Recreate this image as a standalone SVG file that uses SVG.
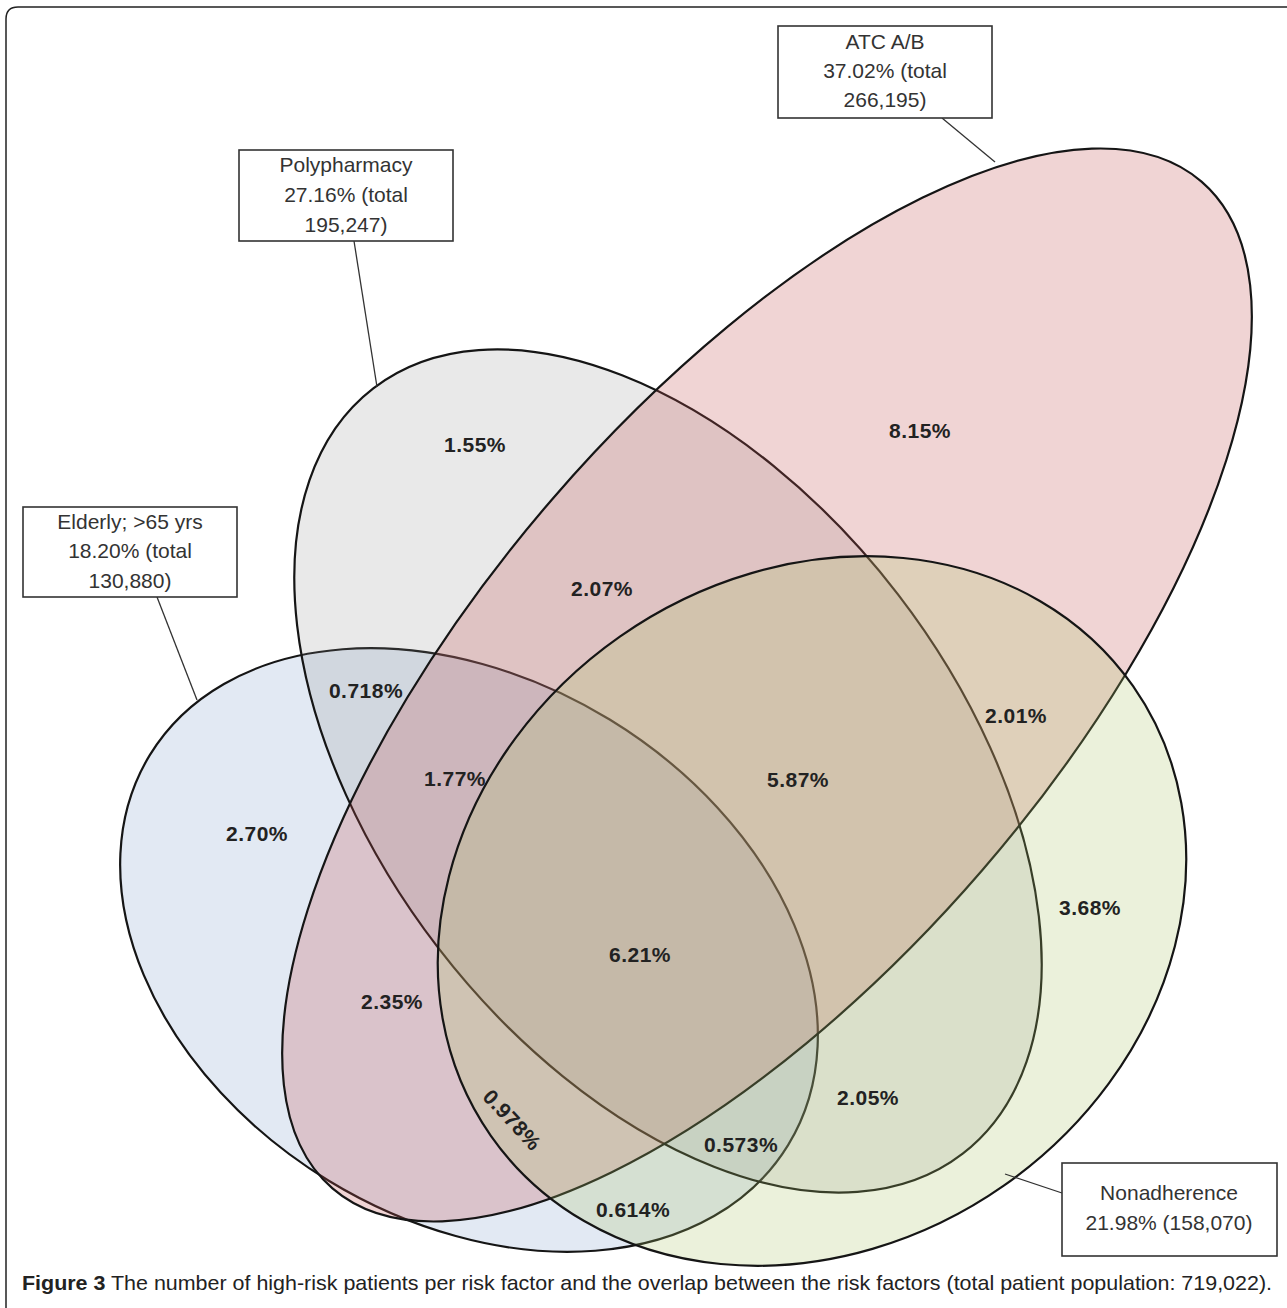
<svg xmlns="http://www.w3.org/2000/svg" width="1287" height="1308" viewBox="0 0 1287 1308">
<style>
.set{stroke:#151515;stroke-width:2.2}
.box{fill:#ffffff;stroke:#333;stroke-width:1.6}
.boxt{font-family:"Liberation Sans",Arial,sans-serif;font-size:21px;fill:#333;text-anchor:middle}
.pct{font-family:"Liberation Sans",Arial,sans-serif;font-size:21px;font-weight:bold;fill:#222;text-anchor:middle;letter-spacing:0.5px}
.lead{stroke:#333;stroke-width:1.3;fill:none}
.cap{font-family:"Liberation Sans",Arial,sans-serif;font-size:21px;fill:#222}
</style>
<rect width="1287" height="1308" fill="#ffffff"/>
<path d="M6,1308 V19 Q6,7 18,7 H1287" fill="none" stroke="#222" stroke-width="1.5"/>
<g id="set-elderly">
<ellipse class="set" cx="469" cy="950" rx="374" ry="270" transform="rotate(31.4 469 950)" fill="rgb(110,145,195)" fill-opacity="0.2"/>
</g>
<g id="set-polypharmacy">
<ellipse class="set" cx="668" cy="771" rx="483" ry="290" transform="rotate(52.4 668 771)" fill="rgb(140,140,140)" fill-opacity="0.19"/>
</g>
<g id="set-atc">
<ellipse class="set" cx="767" cy="685" rx="665" ry="284" transform="rotate(-49.2 767 685)" fill="rgb(195,83,83)" fill-opacity="0.25"/>
</g>
<g id="set-nonadherence">
<ellipse class="set" cx="812" cy="911" rx="392" ry="335" transform="rotate(-35 812 911)" fill="rgb(170,195,105)" fill-opacity="0.24"/>
</g>
<g id="connectors">
<line class="lead" x1="157" y1="597" x2="197" y2="700"/>
<line class="lead" x1="354" y1="241" x2="377" y2="387"/>
<line class="lead" x1="942" y1="118" x2="995" y2="162"/>
<line class="lead" x1="1005" y1="1174" x2="1062" y2="1193"/>
</g>
<g id="label-atc">
<rect class="box" x="778" y="26" width="214" height="92"/>
<text class="boxt" x="885" y="49">ATC A/B</text>
<text class="boxt" x="885" y="78">37.02% (total</text>
<text class="boxt" x="885" y="107">266,195)</text>
</g>
<g id="label-polypharmacy">
<rect class="box" x="239" y="150" width="214" height="91"/>
<text class="boxt" x="346" y="172">Polypharmacy</text>
<text class="boxt" x="346" y="202">27.16% (total</text>
<text class="boxt" x="346" y="232">195,247)</text>
</g>
<g id="label-elderly">
<rect class="box" x="23" y="507" width="214" height="90"/>
<text class="boxt" x="130" y="529">Elderly; &gt;65 yrs</text>
<text class="boxt" x="130" y="558">18.20% (total</text>
<text class="boxt" x="130" y="588">130,880)</text>
</g>
<g id="label-nonadherence">
<rect class="box" x="1062" y="1163" width="215" height="93"/>
<text class="boxt" x="1169" y="1200">Nonadherence</text>
<text class="boxt" x="1169" y="1230">21.98% (158,070)</text>
</g>
<g id="region-values">
<text class="pct" x="475" y="452">1.55%</text>
<text class="pct" x="920" y="438">8.15%</text>
<text class="pct" x="602" y="596">2.07%</text>
<text class="pct" x="366" y="698">0.718%</text>
<text class="pct" x="1016" y="723">2.01%</text>
<text class="pct" x="455" y="786">1.77%</text>
<text class="pct" x="798" y="787">5.87%</text>
<text class="pct" x="257" y="841">2.70%</text>
<text class="pct" x="1090" y="915">3.68%</text>
<text class="pct" x="640" y="962">6.21%</text>
<text class="pct" x="392" y="1009">2.35%</text>
<text class="pct" x="868" y="1105">2.05%</text>
<text class="pct" x="0" y="0" transform="translate(512,1120) rotate(47)" dy="7">0.978%</text>
<text class="pct" x="741" y="1152">0.573%</text>
<text class="pct" x="633" y="1217">0.614%</text>
</g>
<text class="cap" x="22" y="1290" textLength="1250" lengthAdjust="spacingAndGlyphs"><tspan font-weight="bold">Figure 3</tspan> The number of high-risk patients per risk factor and the overlap between the risk factors (total patient population: 719,022).</text>
</svg>
